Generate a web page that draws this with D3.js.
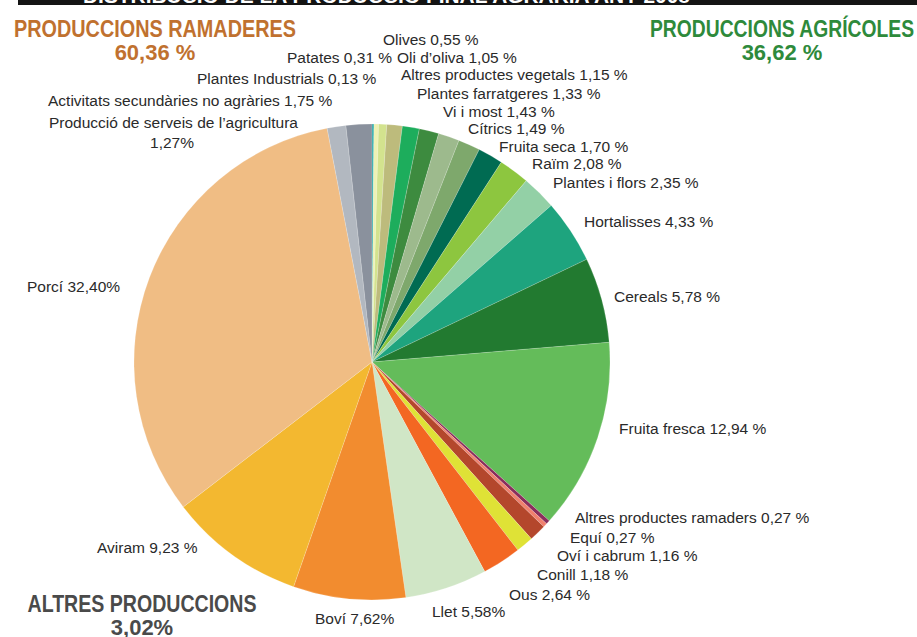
<!DOCTYPE html>
<html>
<head>
<meta charset="utf-8">
<script src="https://cdn.jsdelivr.net/npm/d3@7"></script>
<style>
  body { margin: 0; background: #fff; }
</style>
</head>
<body>
<div id="chart"></div>
<script>
// slices, clockwise from 12 o'clock
const categories = ['Plantes Industrials', 'Patates', 'Olives', 'Oli d’oliva', 'Altres productes vegetals',
  'Plantes farratgeres', 'Vi i most', 'Cítrics', 'Fruita seca', 'Raïm', 'Plantes i flors', 'Hortalisses',
  'Cereals', 'Fruita fresca', 'Altres productes ramaders', 'Equí', 'Oví i cabrum', 'Conill', 'Ous',
  'Llet', 'Boví', 'Aviram', 'Porcí', 'Producció de serveis de l’agricultura', 'Activitats secundàries no agràries'];
const values = [0.13, 0.31, 0.55, 1.05, 1.15, 1.33, 1.43, 1.49, 1.70, 2.08, 2.35, 4.33, 5.78, 12.94,
  0.27, 0.27, 1.16, 1.18, 2.64, 5.58, 7.62, 9.23, 32.40, 1.27, 1.75];
const valueLabels = ['0,13 %', '0,31 %', '0,55 %', '1,05 %', '1,15 %', '1,33 %', '1,43 %', '1,49 %', '1,70 %',
  '2,08 %', '2,35 %', '4,33 %', '5,78 %', '12,94 %', '0,27 %', '0,27 %', '1,16 %', '1,18 %', '2,64 %',
  '5,58%', '7,62%', '9,23 %', '32,40%', '1,27%', '1,75 %'];
const groupNames = ['PRODUCCIONS RAMADERES', 'PRODUCCIONS AGRÍCOLES', 'ALTRES PRODUCCIONS'];
const groupTotals = ['60,36 %', '36,62 %', '3,02%'];

// styles / layout, kept apart from the data
const colors = ['#1fa6a6', '#eef2b4', '#d3e38e', '#bdbb7c', '#1dad5c', '#3d8b3f', '#9dba8d', '#7ea86c',
  '#006b52', '#8dc63f', '#93d0a6', '#1ea47e', '#227a30', '#64bc5a', '#8a2e5c', '#f0806e', '#b4472c',
  '#dfe236', '#f36722', '#d0e6c6', '#f28c2f', '#f3b830', '#f0bd84', '#b2b8c0', '#8a919d'];
// label anchor points [x, baseline]
const labelPos = [[197, 84], [287, 63], [383, 45], [397, 63], [401, 80], [417, 99], [443, 117], [468, 134],
  [499, 152], [532, 169], [553, 188], [584, 227], [614, 302], [619, 434], [575, 523], [570, 543],
  [557, 561], [537, 580], [509, 600], [432, 617], [315, 624], [97, 553], [27, 292], [49, 128], [48, 106]];
const groupPos = [[155, 37], [782, 37], [142, 612]];
const groupWidths = [282, 264, 229];
const groupColors = ['#c0712f', '#2e8a3b', '#4a4a4a'];

const W = 917, H = 637;
const cx = 372, cy = 362, R = 238;
const labelFont = "'Liberation Sans', Arial, sans-serif";

const svg = d3.select('#chart').append('svg')
  .attr('width', W)
  .attr('height', H)
  .style('display', 'block');

// top title bar, text cut off by the page edge
svg.append('clipPath').attr('id', 'barclip')
  .append('rect').attr('x', 18).attr('y', 0).attr('width', 896).attr('height', 5);
svg.append('path')
  .attr('d', 'M18,0 H917 V5 H18 Z')
  .attr('fill', '#141414');
svg.append('text')
  .attr('clip-path', 'url(#barclip)')
  .attr('x', 83).attr('y', 3)
  .attr('textLength', 607)
  .attr('lengthAdjust', 'spacingAndGlyphs')
  .style('font-family', labelFont)
  .style('font-weight', 'bold')
  .style('font-size', '20px')
  .attr('fill', '#fff')
  .text('DISTRIBUCIÓ DE LA PRODUCCIÓ FINAL AGRÀRIA ANY 2008');

const slices = categories.map((c, i) => ({ name: c, v: values[i], i: i }));

const pie = d3.pie().sort(null).value(d => d.v).startAngle(0).endAngle(2 * Math.PI);
const arc = d3.arc().innerRadius(0).outerRadius(R);
const color = d3.scaleOrdinal().domain(categories).range(colors);

const g = svg.append('g').attr('transform', `translate(${cx},${cy})`);
g.selectAll('.slice')
  .data(pie(slices))
  .enter()
  .append('path')
  .attr('class', 'slice')
  .attr('d', arc)
  .attr('fill', d => color(d.data.name))
  .attr('stroke', 'rgba(255,255,255,0.35)')
  .attr('stroke-width', 0.5);

// slice labels
svg.selectAll('.label')
  .data(slices)
  .enter()
  .append('text')
  .attr('class', 'label')
  .attr('x', d => labelPos[d.i][0])
  .attr('y', d => labelPos[d.i][1])
  .style('font-family', labelFont)
  .style('font-size', '15.5px')
  .attr('fill', '#2a2a2a')
  .each(function (d) {
    const t = d3.select(this);
    if (d.name.startsWith('Producció de serveis')) {
      t.append('tspan').text(d.name);
      t.append('tspan').attr('x', 172).attr('dy', 20).attr('text-anchor', 'middle').text(valueLabels[d.i]);
    } else {
      t.text(d.name + ' ' + valueLabels[d.i]);
    }
  });

// group headers (condensed look via textLength)
groupNames.forEach((n, i) => {
  svg.append('text')
    .attr('x', groupPos[i][0] - groupWidths[i] / 2)
    .attr('y', groupPos[i][1])
    .attr('textLength', groupWidths[i])
    .attr('lengthAdjust', 'spacingAndGlyphs')
    .style('font-family', labelFont)
    .style('font-weight', 'bold')
    .style('font-size', '23px')
    .attr('fill', groupColors[i])
    .text(n);
  svg.append('text')
    .attr('x', groupPos[i][0])
    .attr('y', groupPos[i][1] + 23)
    .attr('text-anchor', 'middle')
    .style('font-family', labelFont)
    .style('font-weight', 'bold')
    .style('font-size', '22px')
    .attr('fill', groupColors[i])
    .text(groupTotals[i]);
});
</script>
</body>
</html>
